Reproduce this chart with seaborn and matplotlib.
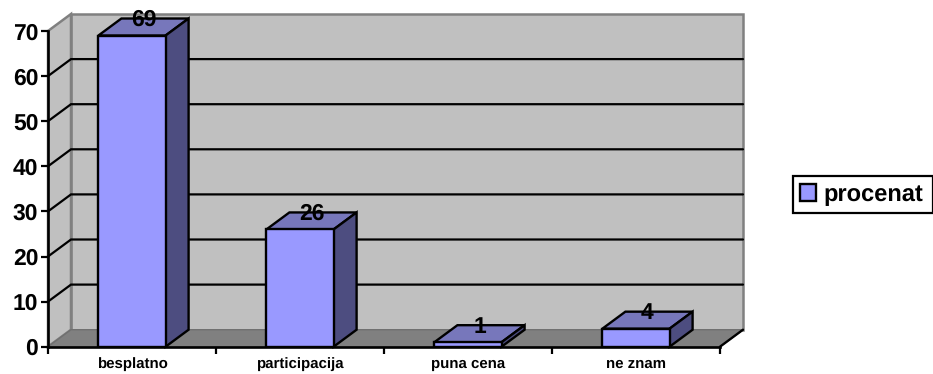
"""3D-look column chart drawn from a flat seaborn barplot plus depth faces."""
import matplotlib
matplotlib.use("Agg")
import matplotlib.pyplot as plt
import seaborn as sns
from matplotlib.patches import Rectangle

categories = ["besplatno", "participacija", "puna cena", "ne znam"]
values = [69, 26, 1, 4]
series_name = "procenat"
y_ticks = [0, 10, 20, 30, 40, 50, 60, 70]

# depth of the fake 3D box, in data units (23 px right, 17 px up)
DX = 23 / 168
DY = 17 / 4.51
XMIN, XMAX, YMIN, YMAX = -0.5, 3.5, 0, 70

sns.set_style("ticks")
plt.rcParams["font.family"] = ["Liberation Sans", "DejaVu Sans"]
plt.rcParams["text.hinting"] = "no_hinting"

fig = plt.figure(figsize=(9.33, 3.74), dpi=100)
ax = fig.add_axes([48 / 933, 27.3 / 374, 672 / 933, 315.7 / 374])

sns.barplot(x=categories, y=values, color="#9999ff", saturation=1, width=0.4,
            edgecolor="black", linewidth=1.7, label=series_name, ax=ax, zorder=4)
ax.set_xlim(XMIN, XMAX)
ax.set_ylim(YMIN, YMAX)

# walls and floor
wall = dict(clip_on=False, zorder=0, facecolor="#c0c0c0", edgecolor="#808080", linewidth=1.8)
ax.fill([XMIN + DX, XMAX + DX, XMAX + DX, XMIN + DX],
        [YMIN + DY, YMIN + DY, YMAX + DY, YMAX + DY], **wall)
ax.fill([XMIN, XMIN + DX, XMIN + DX, XMIN],
        [YMIN, YMIN + DY, YMAX + DY, YMAX], **wall)
ax.fill([XMIN, XMAX, XMAX + DX, XMIN + DX],
        [YMIN, YMIN, YMIN + DY, YMIN + DY], clip_on=False, zorder=1,
        facecolor="#808080", edgecolor="#707070", linewidth=1)
ax.plot([XMAX, XMAX + DX], [YMIN, YMIN + DY], color="black", lw=1.7, clip_on=False, zorder=2)

# gridlines run along the side wall and the back wall (the top edge stays grey)
for t in y_ticks[1:-1]:
    ax.plot([XMIN, XMIN + DX, XMAX + DX], [t, t + DY, t + DY], color="black",
            lw=1.6, clip_on=False, zorder=2, solid_joinstyle="miter")

# top and side faces of each bar, value on the back edge of the top
for bar, val in zip(ax.containers[0], values):
    x0, x1 = bar.get_x(), bar.get_x() + bar.get_width()
    ax.fill([x0, x1, x1 + DX, x0 + DX], [val, val, val + DY, val + DY], facecolor="#7777bb",
            edgecolor="black", linewidth=1.7, clip_on=False, zorder=3.5)
    ax.fill([x1, x1 + DX, x1 + DX, x1], [0, DY, val + DY, val], facecolor="#4d4d80",
            edgecolor="black", linewidth=1.7, clip_on=False, zorder=3.5)
    ax.text((x0 + x1) / 2 + DX / 2, val + DY - 0.4, str(val), ha="center", va="center",
            fontsize=16.5, fontweight="bold", color="black", zorder=6, clip_on=False)

sns.despine(ax=ax)
for side in ["left", "bottom"]:
    ax.spines[side].set_color("black")
    ax.spines[side].set_linewidth(1.9)
    ax.spines[side].set_zorder(5)

ax.set_yticks(y_ticks)
ax.tick_params(axis="y", length=5, width=1.6, color="black", pad=2, labelsize=16.5, labelcolor="black")
for lab in ax.get_yticklabels():
    lab.set_fontweight("bold")

ax.set_xticks([-0.5, 0.5, 1.5, 2.5, 3.5], minor=True)
ax.tick_params(axis="x", which="minor", length=5, width=1.6, color="black")
ax.tick_params(axis="x", which="major", length=0, pad=7.5, labelsize=10.8, labelcolor="black")
for lab in ax.get_xticklabels():
    lab.set_fontweight("bold")

# legend box runs off the right edge, so the frame is drawn by hand around it
fig.add_artist(Rectangle((792.5 / 933, 1 - 213 / 374), 140 / 933, 37 / 374, transform=fig.transFigure,
                         facecolor="white", edgecolor="black", linewidth=1.6, zorder=-1))
handles, labels = ax.get_legend_handles_labels()
ax.legend(handles, labels, loc="center left", bbox_to_anchor=(800 / 933, 1 - 194.5 / 374),
          bbox_transform=fig.transFigure, frameon=False, handlelength=0.68, handleheight=0.68,
          handletextpad=0.32, borderaxespad=0, borderpad=0, labelcolor="black",
          prop={"size": 17, "weight": "bold"})

fig.savefig("out.png", dpi=100)
